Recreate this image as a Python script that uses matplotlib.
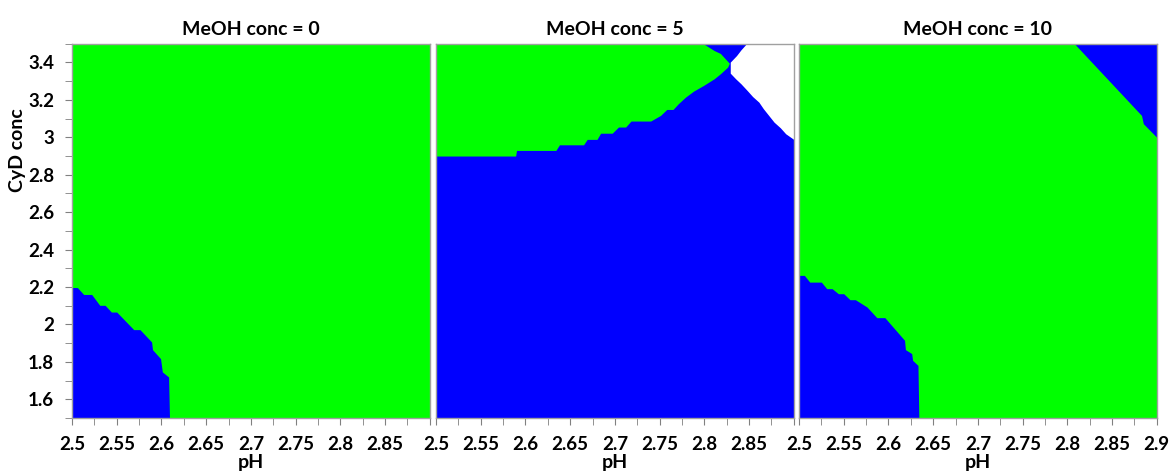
import numpy as np
import matplotlib
matplotlib.use("Agg")
import matplotlib.pyplot as plt
from matplotlib.ticker import MultipleLocator

plt.rcParams['font.family'] = ['Lato', 'DejaVu Sans']
plt.rcParams['font.weight'] = 'bold'

GREEN = '#00ff00'
BLUE = '#0000ff'

titles = ['MeOH conc = 0', 'MeOH conc = 5', 'MeOH conc = 10']

# MeOH = 0 : blue region bottom-left, upper edge
ph_m0 = [2.500, 2.506, 2.513, 2.522, 2.531, 2.537, 2.544, 2.550, 2.569, 2.576,
         2.589, 2.590, 2.599, 2.601, 2.608, 2.609]
cyd_m0 = [2.197, 2.197, 2.160, 2.160, 2.102, 2.102, 2.066, 2.066, 1.972, 1.972,
          1.906, 1.865, 1.817, 1.746, 1.719, 1.500]

# MeOH = 5 : green region, lower edge and upper edge
ph_m5_low = [2.500, 2.589, 2.590, 2.634, 2.638, 2.665, 2.669, 2.680, 2.684, 2.697,
             2.704, 2.712, 2.718, 2.740, 2.751, 2.758, 2.765, 2.771, 2.779, 2.788,
             2.799, 2.811, 2.818, 2.826, 2.828]
cyd_m5_low = [2.900, 2.900, 2.930, 2.930, 2.960, 2.960, 2.989, 2.989, 3.022, 3.022,
              3.055, 3.055, 3.087, 3.087, 3.117, 3.149, 3.149, 3.180, 3.215, 3.247,
              3.277, 3.313, 3.340, 3.375, 3.396]
ph_m5_up = [2.500, 2.803, 2.808, 2.815, 2.828]
cyd_m5_up = [3.500, 3.500, 3.464, 3.464, 3.396]

# MeOH = 5 : white region (upper right), left/lower edge
ph_m5_w = [2.847, 2.841, 2.836, 2.829, 2.829, 2.835, 2.841, 2.848, 2.854, 2.861,
           2.866, 2.872, 2.878, 2.885, 2.891, 2.900]
cyd_m5_w = [3.500, 3.468, 3.437, 3.402, 3.343, 3.313, 3.286, 3.250, 3.218, 3.188,
            3.153, 3.117, 3.081, 3.051, 3.019, 2.989]

# MeOH = 10 : blue region bottom-left, upper edge
ph_m10 = [2.500, 2.506, 2.512, 2.525, 2.531, 2.537, 2.544, 2.550, 2.557, 2.563,
          2.576, 2.587, 2.596, 2.618, 2.619, 2.626, 2.627, 2.633, 2.634]
cyd_m10 = [2.262, 2.262, 2.226, 2.226, 2.191, 2.191, 2.164, 2.164, 2.132, 2.132,
           2.093, 2.036, 2.036, 1.915, 1.865, 1.844, 1.808, 1.781, 1.500]

# MeOH = 10 : blue region top-right, lower edge
ph_m10_tr = [2.808, 2.883, 2.885, 2.900]
cyd_m10_tr = [3.500, 3.117, 3.073, 3.000]

fig = plt.figure(figsize=(11.69, 4.76), dpi=100)
lefts = [0.0616, 0.373, 0.6835]
axes = [fig.add_axes([l, 0.122, 0.306, 0.786]) for l in lefts]

# panel 1
ax = axes[0]
ax.set_facecolor(GREEN)
ax.fill_between(ph_m0, 1.5, cyd_m0, color=BLUE, lw=0)

# panel 2
ax = axes[1]
ax.set_facecolor(BLUE)
ax.fill_between(ph_m5_low, cyd_m5_low, np.interp(ph_m5_low, ph_m5_up, cyd_m5_up),
                color=GREEN, lw=0)
ax.fill_between(ph_m5_w, cyd_m5_w, 3.5, color='white', lw=0)

# panel 3
ax = axes[2]
ax.set_facecolor(GREEN)
ax.fill_between(ph_m10, 1.5, cyd_m10, color=BLUE, lw=0)
ax.fill_between(ph_m10_tr, cyd_m10_tr, 3.5, color=BLUE, lw=0)

for i, ax in enumerate(axes):
    ax.set_title(titles[i], fontsize=14, fontweight='bold', pad=6)
    ax.set_xlabel('pH', fontsize=14, fontweight='bold', labelpad=1)
    ax.xaxis.set_minor_locator(MultipleLocator(0.025))
    ax.yaxis.set_minor_locator(MultipleLocator(0.1))
    xt = np.arange(2.5, 2.901, 0.05)
    ax.set_xticks(xt)
    xl = ['%g' % round(v, 3) for v in xt]
    if i < 2:
        xl[-1] = ''
    ax.set_xticklabels(xl, fontweight='bold')
    yt = np.arange(1.6, 3.41, 0.2)
    ax.set_yticks(yt)
    ax.set_yticklabels(['%g' % round(v, 3) for v in yt], fontweight='bold')
    ax.set_xlim(2.5, 2.9)
    ax.set_ylim(1.5, 3.5)
    ax.tick_params(which='both', direction='out', length=5, color='#808080',
                   labelsize=13.5, pad=8)
    for s in ax.spines.values():
        s.set_color('#a0a0a0')
        s.set_linewidth(1)
    if i > 0:
        ax.tick_params(axis='y', which='both', left=False, labelleft=False)

axes[0].set_ylabel('CyD conc', fontsize=14, fontweight='bold')
axes[0].yaxis.set_label_coords(-0.13, 0.717)

fig.savefig('out.png', dpi=100)
